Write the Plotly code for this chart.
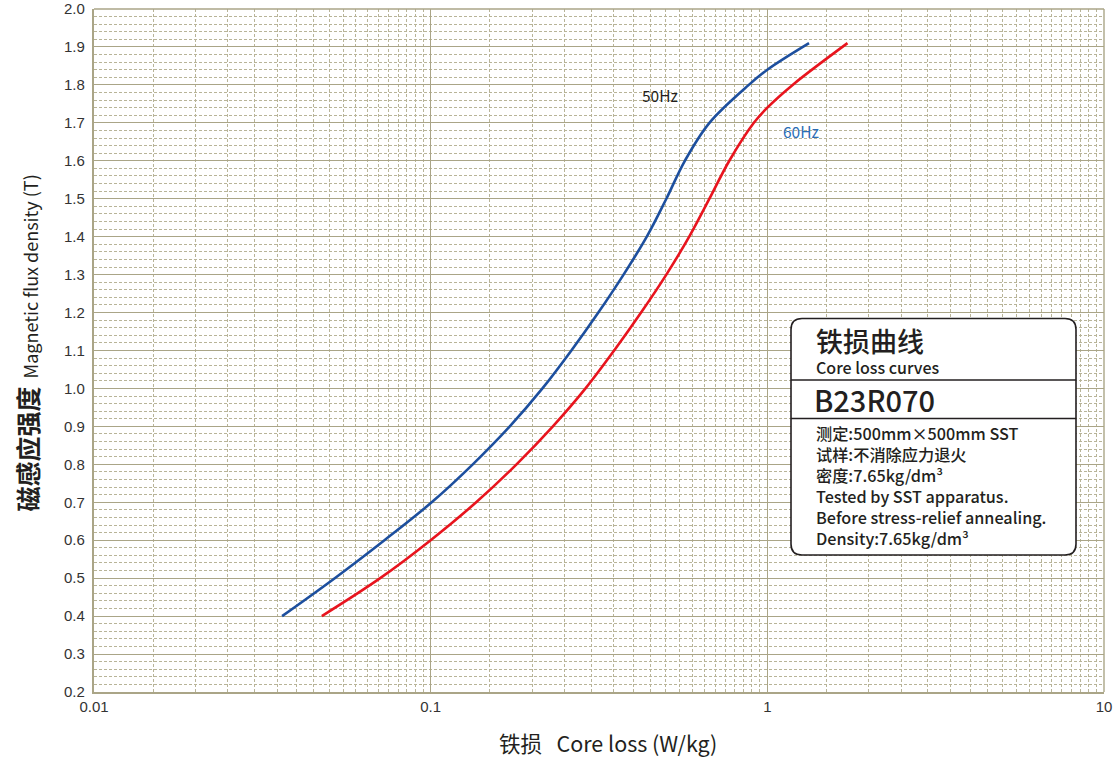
import plotly.graph_objects as go

# Core loss curves, B23R070 grain-oriented steel (SST, before stress-relief annealing)
b_50hz = [0.40, 0.50, 0.60, 0.70, 0.80, 0.90, 1.00, 1.10, 1.20, 1.30, 1.40,
          1.50, 1.60, 1.70, 1.80, 1.84, 1.91]
p_50hz = [0.0362, 0.0519, 0.0729, 0.1007, 0.1334, 0.1718, 0.2148, 0.2618, 0.3148, 0.3741,
          0.4385, 0.5012, 0.5689, 0.673, 0.881, 1.000, 1.330]

b_60hz = [0.40, 0.50, 0.60, 0.70, 0.80, 0.90, 1.00, 1.10, 1.20, 1.30, 1.40,
          1.50, 1.60, 1.70, 1.74, 1.80, 1.91]
p_60hz = [0.0475, 0.0708, 0.1000, 0.1365, 0.1799, 0.2307, 0.2884, 0.3508, 0.4217, 0.5012,
          0.5861, 0.673, 0.771, 0.912, 1.000, 1.189, 1.730]

x_tick_vals = [0.01, 0.1, 1, 10]
x_tick_text = ["0.01", "0.1", "1", "10"]
y_tick_vals = [0.2, 0.3, 0.4, 0.5, 0.6, 0.7, 0.8, 0.9, 1.0, 1.1, 1.2, 1.3, 1.4,
               1.5, 1.6, 1.7, 1.8, 1.9, 2.0]
y_tick_text = ["0.2", "0.3", "0.4", "0.5", "0.6", "0.7", "0.8", "0.9", "1.0", "1.1",
               "1.2", "1.3", "1.4", "1.5", "1.6", "1.7", "1.8", "1.9", "2.0"]

box_lines = [
    "测定:500mm×500mm SST",
    "试样:不消除应力退火",
    "密度:7.65kg/dm³",
    "Tested by SST apparatus.",
    "Before stress-relief annealing.",
    "Density:7.65kg/dm³",
]

# minor log grid: half-steps inside each decade (1.5, 2, 2.5, ... 9.5)
x_minor = [m / 2 * 10 ** d for d in (-2, -1, 0) for m in range(3, 20)]

W, H = 1119, 761
ML, MR, MT, MB = 94, 15, 9, 69
PW, PH = W - ML - MR, H - MT - MB

GRID = "#aaa587"
GRID_MINOR = "#b8b498"
INK = "#231f20"
CJK = "Noto Sans CJK SC"


def px(x):
    return (x - ML) / PW


def py(y):
    return (H - MB - y) / PH


fig = go.Figure()
fig.add_trace(go.Scatter(x=p_50hz, y=b_50hz, mode="lines", name="50Hz",
                         line=dict(color="#1d4f9e", width=2.6, shape="spline", smoothing=1.0)))
fig.add_trace(go.Scatter(x=p_60hz, y=b_60hz, mode="lines", name="60Hz",
                         line=dict(color="#e8141e", width=2.6, shape="spline", smoothing=1.0)))

fig.update_xaxes(
    type="log", range=[-2, 1], automargin=False,
    tickvals=x_tick_vals, ticktext=x_tick_text,
    showgrid=True, gridcolor=GRID, gridwidth=1.4,
    minor=dict(tickvals=x_minor, showgrid=True, gridcolor=GRID_MINOR,
               griddash="3px,2px", gridwidth=1, ticks=""),
    showline=True, linecolor=GRID, linewidth=2.2,
    ticks="", zeroline=False,
    tickfont=dict(family="Liberation Sans", size=15, color="#333333"),
)
fig.update_yaxes(
    range=[0.2, 2.0], automargin=False,
    tickvals=y_tick_vals, ticktext=y_tick_text,
    showgrid=True, gridcolor=GRID, gridwidth=1.4,
    minor=dict(dtick=0.02, showgrid=True, gridcolor=GRID_MINOR,
               griddash="3px,2px", gridwidth=1, ticks=""),
    showline=True, linecolor=GRID, linewidth=2.2,
    ticks="", zeroline=False, ticklabelstandoff=4,
    tickfont=dict(family="Liberation Sans", size=15, color="#333333"),
)

shapes = [
    # top and right frame
    dict(type="line", xref="paper", yref="paper", x0=0, x1=1, y0=1, y1=1,
         line=dict(color=GRID, width=1.4)),
    dict(type="line", xref="paper", yref="paper", x0=1, x1=1, y0=0, y1=1,
         line=dict(color=GRID, width=1.4)),
]

# info box with rounded corners
bx0, bx1, byt, byb = px(791), px(1076), py(318.5), py(555)
rx, ry = 11 / PW, 11 / PH
path = (f"M {bx0+rx},{byt} L {bx1-rx},{byt} Q {bx1},{byt} {bx1},{byt-ry} "
        f"L {bx1},{byb+ry} Q {bx1},{byb} {bx1-rx},{byb} "
        f"L {bx0+rx},{byb} Q {bx0},{byb} {bx0},{byb+ry} "
        f"L {bx0},{byt-ry} Q {bx0},{byt} {bx0+rx},{byt} Z")
shapes.append(dict(type="path", xref="paper", yref="paper", path=path,
                   fillcolor="white", line=dict(color=INK, width=1.6), layer="above"))
for yd in (380, 418.5):
    shapes.append(dict(type="line", xref="paper", yref="paper",
                       x0=bx0, x1=bx1, y0=py(yd), y1=py(yd),
                       line=dict(color=INK, width=1.6), layer="above"))

annotations = [
    dict(x=px(814), y=py(340.5), text="铁损曲线",
         font=dict(family=CJK, size=27, color=INK, weight=500)),
    dict(x=px(814), y=py(367.5), text="Core loss curves",
         font=dict(family=CJK, size=16, color=INK, weight=500)),
    dict(x=px(812), y=py(399.5), text="B23R070",
         font=dict(family=CJK, size=29, color=INK, weight=500)),
    dict(x=px(814), y=py(485), text="<br>".join(box_lines), align="left",
         font=dict(family=CJK, size=16.2, color=INK, weight=500)),
]
for a in annotations:
    a.update(xref="paper", yref="paper", xanchor="left", yanchor="middle", showarrow=False)

# curve labels
annotations += [
    dict(x=px(660), y=py(94.5), text="50Hz",
         font=dict(family=CJK, size=15.5, color=INK)),
    dict(x=px(801), y=py(130.5), text="60Hz",
         font=dict(family=CJK, size=15.5, color="#2a6db5")),
]

# axis titles
annotations += [
    dict(x=px(607.5), y=py(742), text="铁损   Core loss (W/kg)",
         font=dict(family=CJK, size=21.5, color=INK)),
    dict(x=px(26), y=py(343.5), textangle=-90,
         text="<b><span style='font-size:25px'>磁感应强度</span></b>  Magnetic flux density (T)",
         font=dict(family=CJK, size=18, color=INK)),
]
for a in annotations[4:]:
    a.update(xref="paper", yref="paper", xanchor="center", yanchor="middle", showarrow=False)

fig.update_layout(
    width=W, height=H,
    margin=dict(l=ML, r=MR, t=MT, b=MB),
    paper_bgcolor="white", plot_bgcolor="white",
    showlegend=False,
    shapes=shapes, annotations=annotations,
)

fig.write_html("out.html")
